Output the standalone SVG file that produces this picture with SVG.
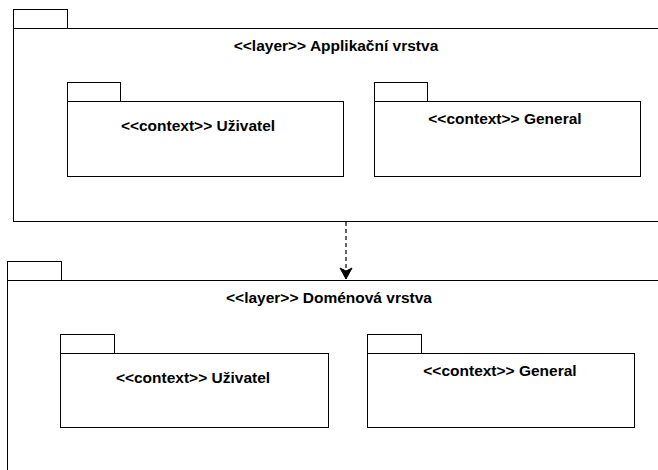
<svg xmlns="http://www.w3.org/2000/svg" width="658" height="470" viewBox="0 0 658 470">
  <defs>
    <style>
      .pkg { fill: #ffffff; stroke: #000000; stroke-width: 1; }
      .lbl { font-family: "Liberation Sans", Arial, Helvetica, sans-serif; font-size: 15.5px; font-weight: bold; fill: #000000; text-anchor: middle; }
      .dep { fill: none; stroke: #000000; stroke-width: 1.2; stroke-dasharray: 4 3; }
    </style>
    <marker id="arrow" markerUnits="userSpaceOnUse" markerWidth="14" markerHeight="14" viewBox="0 0 14 14" refX="12" refY="7" orient="auto">
      <path d="M1,1 L12,7 L1,13 L4,7 Z" fill="#000000" stroke="#000000" stroke-width="1"/>
    </marker>
  </defs>

  <rect width="658" height="470" fill="#ffffff"/>

  <!-- Application layer -->
  <g id="layer-app">
    <rect class="pkg" x="13.5" y="9.5" width="54" height="19"/>
    <rect class="pkg" x="13.5" y="28.5" width="660" height="193"/>
    <text class="lbl" x="336" y="51">&lt;&lt;layer&gt;&gt; Applikační vrstva</text>
  </g>
  <g id="app-uzivatel">
    <rect class="pkg" x="67.5" y="82.5" width="53" height="19"/>
    <rect class="pkg" x="67.5" y="101.5" width="276" height="75"/>
    <text class="lbl" x="198" y="131">&lt;&lt;context&gt;&gt; Uživatel</text>
  </g>
  <g id="app-general">
    <rect class="pkg" x="374.5" y="82.5" width="53" height="19"/>
    <rect class="pkg" x="374.5" y="101.5" width="266" height="75"/>
    <text class="lbl" x="505" y="124">&lt;&lt;context&gt;&gt; General</text>
  </g>

  <!-- Domain layer -->
  <g id="layer-domain">
    <rect class="pkg" x="7.5" y="261.5" width="54" height="19"/>
    <rect class="pkg" x="7.5" y="280.5" width="670" height="210"/>
    <text class="lbl" x="329" y="303">&lt;&lt;layer&gt;&gt; Doménová vrstva</text>
  </g>
  <g id="domain-uzivatel">
    <rect class="pkg" x="60.5" y="334.5" width="54" height="19"/>
    <rect class="pkg" x="60.5" y="353.5" width="268" height="74"/>
    <text class="lbl" x="193" y="383">&lt;&lt;context&gt;&gt; Uživatel</text>
  </g>
  <g id="domain-general">
    <rect class="pkg" x="367.5" y="334.5" width="54" height="19"/>
    <rect class="pkg" x="367.5" y="353.5" width="267" height="74"/>
    <text class="lbl" x="500" y="376">&lt;&lt;context&gt;&gt; General</text>
  </g>

  <!-- Connectors -->
  <g id="connectors">
    <path class="dep" d="M346,222 L346,279" marker-end="url(#arrow)"/>
  </g>
</svg>
